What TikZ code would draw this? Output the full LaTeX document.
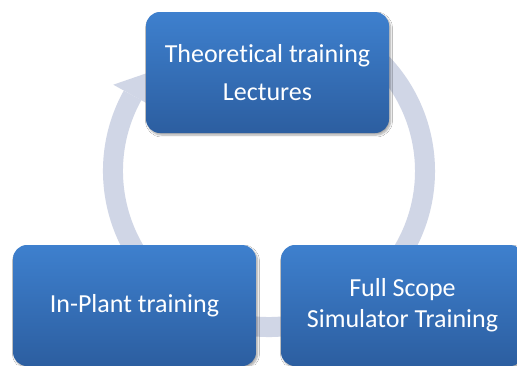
\documentclass[tikz,border=0pt]{standalone}
\usepackage{fontspec}
\setmainfont{Carlito}[Ligatures={NoCommon}]
\usetikzlibrary{shadows.blur,calc}
\definecolor{ringc}{RGB}{208,214,230}
\definecolor{boxtop}{RGB}{62,128,206}
\definecolor{boxbot}{RGB}{44,94,160}
\tikzset{
  stagebox/.style={rounded corners=14pt, minimum width=243pt, minimum height=121pt,
    top color=boxtop, bottom color=boxbot, draw=none, text=white, align=center,
    font=\fontsize{26}{31}\selectfont,
    blur shadow={shadow xshift=1.5pt, shadow yshift=-2pt, shadow blur steps=6, shadow opacity=35}},
  ring/.style={draw=ringc, line width=20pt}
}
\begin{document}
\begin{tikzpicture}[x=1pt,y=1pt]
\useasboundingbox (0,0) rectangle (517,-365);
\clip (0,0) rectangle (517,-365);
\fill[white] (0,0) rectangle (517,-365);
\coordinate (c) at (269,-171);
% cycle ring
\draw[ring] ($(c)+(151:156)$) arc[start angle=151, end angle=415, radius=156];
\fill[ringc] ($(c)+(151:178)$) -- ($(c)+(151:134)$) -- ($(c)+(141:156)$) -- cycle;
% boxes
\node[stagebox] (theory) at (267.5,-72.5) {Theoretical training\\[7pt]Lectures};
\node[stagebox] (plant) at (134.5,-305.5) {In-Plant training};
\node[stagebox] (sim) at (402.5,-305.5) {Full Scope\\Simulator Training};
\end{tikzpicture}
\end{document}
